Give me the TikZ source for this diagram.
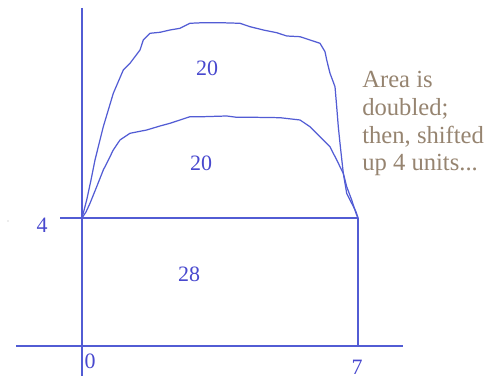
\documentclass[tikz,border=0pt]{standalone}
\usepackage{fontspec}
\setmainfont{Liberation Serif}
\usepackage{xcolor}
\usepackage{tikz}

\definecolor{graphblue}{RGB}{82,92,212}
\definecolor{labelblue}{RGB}{72,72,206}
\definecolor{notebrown}{RGB}{150,132,112}

\begin{document}
\begin{tikzpicture}[
    x=0.02cm, y=-0.02cm,
    axis/.style={graphblue, line width=0.7pt},
    curve/.style={graphblue, line width=0.7pt, line join=round},
    value/.style={labelblue, font=\fontsize{12.5}{15}\selectfont, inner sep=1pt},
    note/.style={notebrown, font=\fontsize{14}{15.8}\selectfont, align=left,
                 inner sep=0pt, anchor=north west},
]

    % the picture is laid out in pixels, y pointing down
    \useasboundingbox (0,0) rectangle (484,377);

    \def\xo{82}     % the y-axis, x = 0
    \def\xs{358}    % x = 7
    \def\yo{346}    % the x-axis, y = 0
    \def\yf{218}    % y = 4

    % =============================================================
    % Axes and the rectangle of height 4
    % =============================================================
    \coordinate (ytop) at (\xo,8);
    \coordinate (ybot) at (\xo,376);
    \coordinate (xleft) at (16,\yo);
    \coordinate (xright) at (403,\yo);
    \coordinate (fourleft) at (60,\yf);
    \coordinate (fourright) at (\xs,\yf);
    \coordinate (sevenfoot) at (\xs,\yo);

    \draw[axis] (ytop) -- (ybot);
    \draw[axis] (xleft) -- (xright);
    \draw[axis] (fourleft) -- (fourright);
    \draw[axis] (fourright) -- (sevenfoot);

    \fill[gray!60] (8,221) circle (0.7);

    \node[value] (tickfour) at (42,225) {4};
    \node[value] (tickzero) at (90,361) {0};
    \node[value] (tickseven) at (357,367) {7};

    % =============================================================
    % The two hand drawn curves, both sitting on y = 4
    % =============================================================
    % lower curve: the original region shifted up 4 units
    \draw[curve] (\xo,\yf) -- (98,\yf);
    \draw[curve] (\xo,\yf) -- (86,212) -- (90,203.3) -- (96.7,186.7)
        -- (103.3,170) -- (106.7,163.3) -- (113.3,150) -- (120,140)
        -- (130,133.3) -- (146.7,130) -- (160,126) -- (170,123.3)
        -- (180,120) -- (190,116.7) -- (203.3,116.7) -- (226.7,116)
        -- (236.7,117.3) -- (253.3,117.3) -- (280,117.7) -- (300,120)
        -- (310,126.7) -- (320,136.7) -- (330,146.7) -- (336.7,160)
        -- (343.3,173.3) -- (346.7,186.7) -- (351.7,200) -- (356,213.3)
        -- (\xs,\yf);

    % upper curve: the doubled area
    \draw[curve] (\xo,\yf) -- (86.7,200) -- (91,180) -- (95,160)
        -- (103.3,126.7) -- (113.3,93.3) -- (123.3,70) -- (130,63.3)
        -- (140,50) -- (143.3,40) -- (150,33.3) -- (160,32.3)
        -- (170,30) -- (180,28.3) -- (190,23.3) -- (203.3,22.7)
        -- (220,22.7) -- (240,23.3) -- (250,26.7) -- (263.3,30)
        -- (276.7,32.7) -- (286.7,36) -- (300,36.7) -- (310,40)
        -- (320,43.3) -- (325,51.7) -- (326.7,60) -- (330,73.3)
        -- (335,86.7) -- (336.7,106.7) -- (338.3,126.7) -- (340,143.3)
        -- (343.3,173.3) -- (346.7,193.3) -- (351.7,203.3) -- (356,211.7)
        -- (\xs,\yf);

    % areas of the three pieces
    \node[value] (areatop) at (207,68) {20};
    \node[value] (areamid) at (201,163) {20};
    \node[value] (areabase) at (189,274) {28};

    % =============================================================
    % The remark on the right
    % =============================================================
    \node[note] (remark) at (362,71)
        {Area is\\doubled;\\then, shifted\\up 4 units...};

\end{tikzpicture}
\end{document}
